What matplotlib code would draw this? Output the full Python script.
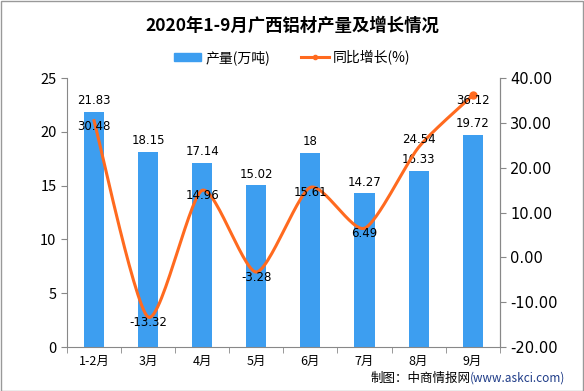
import numpy as np
import matplotlib.pyplot as plt
from matplotlib.lines import Line2D
from matplotlib.patches import Patch, Rectangle

plt.rcParams['font.family'] = ['Noto Sans CJK SC', 'DejaVu Sans']

months = ['1-2月', '3月', '4月', '5月', '6月', '7月', '8月', '9月']
output = [21.83, 18.15, 17.14, 15.02, 18, 14.27, 16.33, 19.72]
growth = [30.48, -13.32, 14.96, -3.28, 15.61, 6.49, 24.54, 36.12]

bar_color = '#3d9ef0'
line_color = '#ff6a1f'


def smooth(xs, ys, n=30):
    # catmull-rom style curve through the points, only for drawing
    xs = np.asarray(xs, float)
    ys = np.asarray(ys, float)
    px = np.concatenate([[xs[0]], xs, [xs[-1]]])
    py = np.concatenate([[ys[0]], ys, [ys[-1]]])
    ox, oy = [], []
    for i in range(1, len(px) - 2):
        t = np.linspace(0, 1, n)
        for p, o in ((px, ox), (py, oy)):
            p0, p1, p2, p3 = p[i - 1], p[i], p[i + 1], p[i + 2]
            m1 = (p2 - p0) / 2 * 0.7
            m2 = (p3 - p1) / 2 * 0.7
            h00 = 2 * t**3 - 3 * t**2 + 1
            h10 = t**3 - 2 * t**2 + t
            h01 = -2 * t**3 + 3 * t**2
            h11 = t**3 - t**2
            o.extend(h00 * p1 + h10 * m1 + h01 * p2 + h11 * m2)
    return np.array(ox), np.array(oy)


fig = plt.figure(figsize=(5.84, 3.91), dpi=100)
fig.patches.append(Rectangle((0.001, 0.001), 0.997, 0.997, transform=fig.transFigure,
                             fill=False, edgecolor='#999999', linewidth=1))

ax = fig.add_axes([0.1147, 0.1125, 0.741, 0.688])
x = np.arange(len(months))
ax.bar(x, output, width=0.37, color=bar_color, zorder=2)
for xi, v in zip(x, output):
    ax.text(xi, v + 0.45, f'{v:g}', ha='center', va='bottom', fontsize=8.5,
            family='DejaVu Sans')

ax.set_xlim(-0.5, len(months) - 0.5)
ax.set_ylim(0, 25)
ax.set_yticks(range(0, 26, 5))
ax.set_xticks(x)
ax.set_xticklabels(months, fontsize=9)
ax.set_xticks(np.arange(-0.5, len(months), 1), minor=True)
ax.tick_params(axis='x', which='major', length=0, pad=6)
ax.tick_params(axis='x', which='minor', length=4, color='#888888')
ax.tick_params(axis='y', labelsize=10.5, length=4, color='#888888')
ax.spines['top'].set_visible(False)
for s in ['left', 'bottom', 'right']:
    ax.spines[s].set_color('#888888')

ax2 = ax.twinx()
ax2.set_ylim(-20, 40)
ax2.set_yticks(range(-20, 41, 10))
ax2.set_yticklabels([f'{t:.2f}' for t in range(-20, 41, 10)], fontsize=10.5,
                    family='DejaVu Sans')
ax2.tick_params(axis='y', length=4, color='#888888')
ax2.spines['top'].set_visible(False)
ax2.spines['right'].set_color('#888888')
ax2.spines['left'].set_visible(False)
ax2.spines['bottom'].set_visible(False)

sx, sy = smooth(x, growth)
ax2.plot(sx, sy, color=line_color, linewidth=2.2, zorder=3)
ax2.plot(x[-1], growth[-1], 'o', color=line_color, markersize=5, zorder=3)
# 8月 label lifted a little so it doesn't sit on the bar label
label_shift = [-1.2, -1.2, -1.2, -1.2, -1.2, -1.2, 1.8, -1.2]
for xi, v, d in zip(x, growth, label_shift):
    ax2.text(xi, v + d, f'{v:g}', ha='center', va='center', fontsize=8.5,
             family='DejaVu Sans', zorder=4)

fig.text(0.5, 0.935, '2020年1-9月广西铝材产量及增长情况', ha='center', va='center',
         fontsize=12.5, fontweight='bold')

handles = [Patch(color=bar_color),
           Line2D([0], [0], color=line_color, lw=2.2, marker='o', markersize=3)]
fig.legend(handles, ['产量(万吨)', '同比增长(%)'], loc='center', ncol=2,
           bbox_to_anchor=(0.5, 0.853), frameon=False, fontsize=10,
           handlelength=2.0, handleheight=0.6, columnspacing=2.2, handletextpad=0.3)

fig.text(0.805, 0.033, '制图：中商情报网', ha='right', va='center', fontsize=9)
fig.text(0.805, 0.033, '(www.askci.com)', ha='left', va='center', fontsize=8.5,
         color='#1f3c88')

fig.savefig('out.png', dpi=100)
